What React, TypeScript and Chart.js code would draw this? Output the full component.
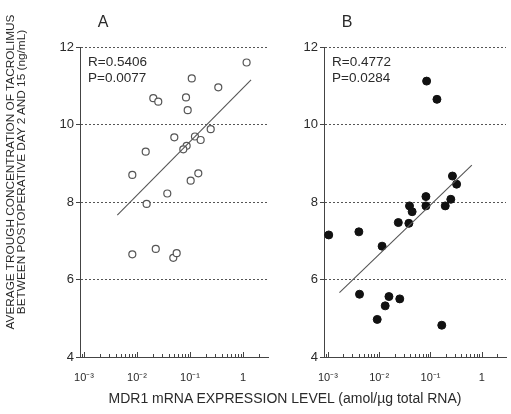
import React, { useEffect, useRef } from "react";
import { Chart, registerables } from "chart.js";

Chart.register(...registerables);

// ---- data ----
const xTickValues = [1e-3, 1e-2, 1e-1, 1];
const xTickLabels = ["10⁻³", "10⁻²", "10⁻¹", "1"];
const yTickValues = [4, 6, 8, 10, 12];

const panelAX = [1.17, 0.108, 0.342, 0.0203, 0.0252, 0.0841, 0.0905, 0.246, 0.0506, 0.124, 0.159, 0.0865, 0.0748, 0.0146, 0.00816, 0.1435, 0.103, 0.0373, 0.0152, 0.00816, 0.0226, 0.0484, 0.0561];
const panelAY = [11.6, 11.19, 10.96, 10.68, 10.59, 10.7, 10.37, 9.88, 9.67, 9.69, 9.6, 9.45, 9.36, 9.3, 8.7, 8.74, 8.55, 8.22, 7.95, 6.65, 6.79, 6.56, 6.68];
const panelALineX = [0.00425, 1.42];
const panelALineY = [7.66, 11.15];
const panelAStats = ["R=0.5406", "P=0.0077"];

const panelBX = [0.0841, 0.1337, 0.268, 0.323, 0.0815, 0.249, 0.039, 0.0815, 0.194, 0.0439, 0.0236, 0.0379, 0.00402, 0.00104, 0.0114, 0.00414, 0.0155, 0.0252, 0.0131, 0.00916, 0.166];
const panelBY = [11.12, 10.65, 8.67, 8.46, 8.14, 8.07, 7.9, 7.9, 7.9, 7.75, 7.47, 7.45, 7.23, 7.15, 6.86, 5.62, 5.56, 5.5, 5.32, 4.97, 4.82];
const panelBLineX = [0.00168, 0.64];
const panelBLineY = [5.66, 8.95];
const panelBStats = ["R=0.4772", "P=0.0284"];

const yTitleLines = ["AVERAGE TROUGH CONCENTRATION OF TACROLIMUS", "BETWEEN POSTOPERATIVE DAY 2 AND 15 (ng/mL)"];
const xTitle = "MDR1 mRNA EXPRESSION LEVEL (amol/µg total RNA)";

const X_MIN = Math.pow(10, -3.0755);
const X_MAX = Math.pow(10, 0.472);
const FONT = "'Liberation Sans', Arial, Helvetica, sans-serif";
const TEXT = "#2a2a2a";
const AXIS = "#444";

const minorTicks = {
  id: "minorTicks",
  afterDraw(chart: any) {
    const s = chart.scales.x;
    const ctx = chart.ctx;
    const bottom = chart.chartArea.bottom;
    ctx.save();
    ctx.strokeStyle = AXIS;
    ctx.lineWidth = 1;
    for (let e = -4; e <= 1; e++) {
      for (let m = 1; m <= 9; m++) {
        const v = m * Math.pow(10, e);
        if (v < s.min || v > s.max) continue;
        const x = Math.round(s.getPixelForValue(v)) + 0.5;
        const len = m === 1 ? 5 : 3;
        ctx.beginPath();
        ctx.moveTo(x, bottom);
        ctx.lineTo(x, bottom - len);
        ctx.stroke();
      }
    }
    ctx.restore();
  },
};

const panelText = {
  id: "panelText",
  afterDraw(chart: any, _args: any, opts: any) {
    const ctx = chart.ctx;
    const a = chart.chartArea;
    ctx.save();
    ctx.fillStyle = TEXT;
    ctx.textBaseline = "middle";
    ctx.textAlign = "center";
    ctx.font = `16px ${FONT}`;
    ctx.fillText(opts.letter, a.left + 23, 23);
    ctx.textAlign = "left";
    ctx.font = `13.5px ${FONT}`;
    opts.lines.forEach((t: string, i: number) => {
      ctx.fillText(t, a.left + 8, a.top + 15 + i * 16);
    });
    ctx.restore();
  },
};

function makeConfig(xs: number[], ys: number[], lx: number[], ly: number[], filled: boolean, padLeft: number, padRight: number, letter: string, lines: string[]): any {
  return {
    type: "scatter",
    data: {
      datasets: [
        {
          type: "line",
          data: lx.map((x, i) => ({ x, y: ly[i] })),
          borderColor: "#555",
          borderWidth: 1.1,
          pointRadius: 0,
          showLine: true,
          fill: false,
        },
        {
          data: xs.map((x, i) => ({ x, y: ys[i] })),
          pointRadius: filled ? 4 : 3.5,
          borderWidth: filled ? 1 : 1.2,
          borderColor: filled ? "#111" : "#555",
          backgroundColor: filled ? "#111" : "rgba(255,255,255,1)",
        },
      ],
    },
    options: {
      animation: false,
      responsive: false,
      maintainAspectRatio: false,
      layout: { padding: { left: padLeft, right: padRight, top: 47, bottom: 27 } },
      plugins: {
        legend: { display: false },
        tooltip: { enabled: false },
        title: { display: false },
        panelText: { letter, lines },
      },
      scales: {
        x: {
          type: "logarithmic",
          min: X_MIN,
          max: X_MAX,
          afterBuildTicks: (s: any) => {
            s.ticks = xTickValues.map((v) => ({ value: v }));
          },
          afterFit: (s: any) => {
            s.height = 30;
          },
          grid: { display: false, drawTicks: false },
          border: { display: true, color: AXIS, width: 1 },
          ticks: {
            autoSkip: false,
            maxRotation: 0,
            padding: 14,
            color: TEXT,
            font: { family: FONT, size: 11 },
            callback: (_v: any, i: number) => xTickLabels[i],
          },
        },
        y: {
          type: "linear",
          min: 4,
          max: 12,
          afterBuildTicks: (s: any) => {
            s.ticks = yTickValues.map((v) => ({ value: v }));
          },
          afterFit: (s: any) => {
            s.width = 30;
          },
          grid: {
            color: (c: any) => (c.tick && c.tick.value === 4 ? "rgba(0,0,0,0)" : "#555"),
            lineWidth: 1,
            drawTicks: true,
            tickLength: 4,
            tickColor: AXIS,
            tickBorderDash: [],
          },
          border: { display: true, color: AXIS, width: 1, dash: [2, 2] },
          ticks: {
            padding: 2,
            color: TEXT,
            font: { family: FONT, size: 13 },
            callback: (v: any) => String(v),
          },
        },
      },
    },
    plugins: [minorTicks, panelText],
  };
}

export default function App() {
  const refA = useRef<HTMLCanvasElement>(null);
  const refB = useRef<HTMLCanvasElement>(null);

  useEffect(() => {
    const a = new Chart(refA.current as HTMLCanvasElement, makeConfig(panelAX, panelAY, panelALineX, panelALineY, false, 50, 243, "A", panelAStats));
    const b = new Chart(refB.current as HTMLCanvasElement, makeConfig(panelBX, panelBY, panelBLineX, panelBLineY, true, 294, 1, "B", panelBStats));
    return () => {
      a.destroy();
      b.destroy();
    };
  }, []);

  const canvasStyle: React.CSSProperties = { position: "absolute", left: 0, top: 0, width: 511, height: 414 };

  return (
    <div style={{ position: "absolute", left: 0, top: 0, width: 511, height: 414, background: "#fff", overflow: "hidden", fontFamily: FONT, color: TEXT }}>
      <canvas ref={refA} width={511} height={414} style={canvasStyle} />
      <canvas ref={refB} width={511} height={414} style={canvasStyle} />
      <div
        style={{
          position: "absolute",
          left: 16 - 170,
          top: 172 - 11,
          width: 340,
          height: 22,
          transform: "rotate(-90deg)",
          transformOrigin: "50% 50%",
          textAlign: "center",
          fontSize: 11.8,
          lineHeight: "11px",
          whiteSpace: "nowrap",
        }}
      >
        <div>{yTitleLines[0]}</div>
        <div>{yTitleLines[1]}</div>
      </div>
      <div
        style={{
          position: "absolute",
          left: 35,
          top: 390,
          width: 500,
          textAlign: "center",
          fontSize: 14,
          lineHeight: "16px",
          whiteSpace: "nowrap",
        }}
      >
        {xTitle}
      </div>
    </div>
  );
}
